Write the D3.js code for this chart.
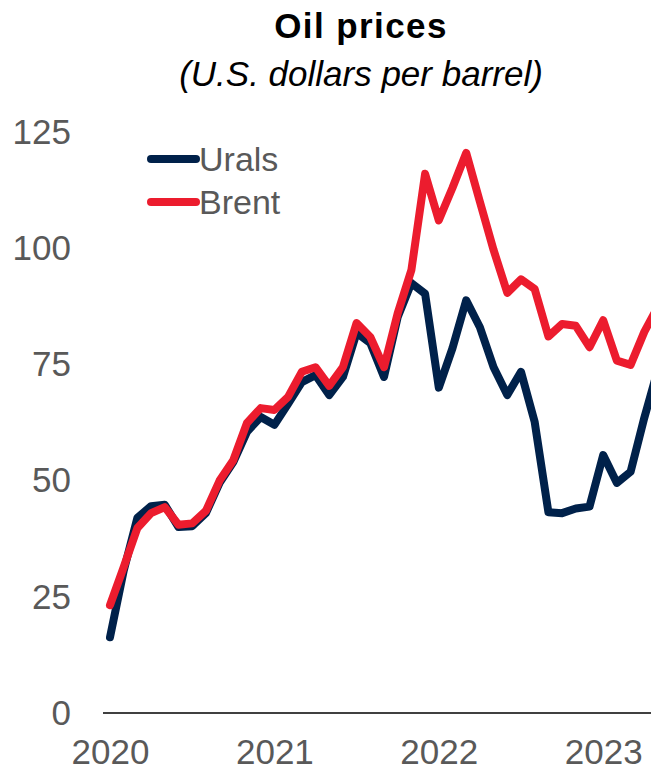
<!DOCTYPE html>
<html>
<head>
<style>
    body { margin: 0; background: #fff; }
    svg { display: block; font-family: Arial, "Liberation Sans", sans-serif; }
</style>
</head>
<body>
    <div class="graph"></div>

    <script src="https://cdn.jsdelivr.net/npm/d3@7"></script>
    <script>
        // monthly averages, Apr 2020 .. Aug 2023
        var months = [
            '2020-04', '2020-05', '2020-06', '2020-07', '2020-08', '2020-09', '2020-10', '2020-11', '2020-12',
            '2021-01', '2021-02', '2021-03', '2021-04', '2021-05', '2021-06', '2021-07', '2021-08', '2021-09',
            '2021-10', '2021-11', '2021-12',
            '2022-01', '2022-02', '2022-03', '2022-04', '2022-05', '2022-06', '2022-07', '2022-08', '2022-09',
            '2022-10', '2022-11', '2022-12',
            '2023-01', '2023-02', '2023-03', '2023-04', '2023-05', '2023-06', '2023-07', '2023-08'
        ]

        var urals = [
            16.3, 30.6, 42, 44.5, 44.8, 40, 40.2, 43, 49.5,
            54, 60.5, 63.7, 62, 66.5, 71.2, 72.7, 68.4, 72.3,
            81.8, 79.6, 72.3,
            85.2, 92.5, 90.2, 70, 78.5, 88.8, 83, 74.4, 68.4,
            73.4, 62.6, 43.2,
            43, 44, 44.4, 55.5, 49.5, 51.9, 63.5, 74
        ]

        var brent = [
            23.2, 31.4, 39.8, 43, 44.3, 40.5, 40.8, 43.5, 50,
            54.4, 62.4, 65.6, 65.2, 68, 73.4, 74.4, 70.4, 74.4,
            83.9, 80.9, 74.4,
            86, 95.3, 116, 106, 113, 120.5, 110, 99.6, 90.4,
            93.3, 91.2, 81,
            83.7, 83.3, 78.7, 84.5, 75.8, 74.9, 82, 87.5
        ]

        var yearTicks = ['2020-04', '2021-04', '2022-04', '2023-04']
        var yearLabels = ['2020', '2021', '2022', '2023']
        var yTicks = [0, 25, 50, 75, 100, 125]

        var series = [
            { name: 'Urals', values: urals, color: '#00214a' },
            { name: 'Brent', values: brent, color: '#ec1c2e' }
        ]

        var width = 651,
            height = 772

        var svg = d3.select('.graph').append('svg')
            .attr('width', width)
            .attr('height', height)

        var x = d3.scalePoint()
            .domain(months)
            .range([110, 658])

        var y = d3.scaleLinear()
            .domain([0, 125])
            .range([713, 132])

        // title
        svg.append('text')
            .attr('x', 361)
            .attr('y', 38)
            .attr('text-anchor', 'middle')
            .style('font-size', '35px')
            .style('font-weight', 'bold')
            .style('letter-spacing', '1.4px')
            .style('fill', '#000')
            .text('Oil prices')

        svg.append('text')
            .attr('x', 361)
            .attr('y', 86)
            .attr('text-anchor', 'middle')
            .style('font-size', '35px')
            .style('font-style', 'italic')
            .style('fill', '#000')
            .text('(U.S. dollars per barrel)')

        // y axis labels (no line, no ticks)
        var y_axis = svg.append('g')
            .attr('transform', 'translate(71,0)')
            .call(d3.axisLeft(y).tickValues(yTicks).tickSize(0).tickPadding(0))
        y_axis.select('.domain').remove()
        y_axis.selectAll('text')
            .style('font-size', '35px')
            .style('fill', '#595959')
            .style('font-family', 'Arial, "Liberation Sans", sans-serif')

        // x axis
        var x_axis = svg.append('g')
            .attr('transform', 'translate(0,' + y(0) + ')')
            .call(d3.axisBottom(x).tickValues(yearTicks)
                .tickFormat(function (d, i) { return yearLabels[i] })
                .tickSize(0).tickPadding(26))
        x_axis.select('.domain')
            .attr('d', 'M103,0H' + width)
            .attr('stroke', '#000')
            .attr('stroke-width', 1.6)
        x_axis.selectAll('text')
            .style('font-size', '35px')
            .style('fill', '#595959')
            .style('font-family', 'Arial, "Liberation Sans", sans-serif')

        var line = d3.line()
            .x(function (d, i) { return x(months[i]) })
            .y(function (d) { return y(d) })

        svg.append('g')
            .selectAll('path')
            .data(series)
            .enter().append('path')
            .attr('d', function (s) { return line(s.values) })
            .style('fill', 'none')
            .style('stroke', function (s) { return s.color })
            .style('stroke-width', 8)
            .style('stroke-linejoin', 'round')
            .style('stroke-linecap', 'round')

        // legend
        var legend = svg.append('g')
            .selectAll('g')
            .data(series)
            .enter().append('g')
            .attr('transform', function (s, i) { return 'translate(0,' + (159 + i * 43) + ')' })

        legend.append('line')
            .attr('x1', 151).attr('x2', 196)
            .attr('y1', 0).attr('y2', 0)
            .style('stroke', function (s) { return s.color })
            .style('stroke-width', 8)
            .style('stroke-linecap', 'round')

        legend.append('text')
            .attr('x', 199)
            .attr('y', 0)
            .attr('dy', '0.35em')
            .style('font-size', '34px')
            .style('fill', '#595959')
            .text(function (s) { return s.name })
    </script>
</body>
</html>
